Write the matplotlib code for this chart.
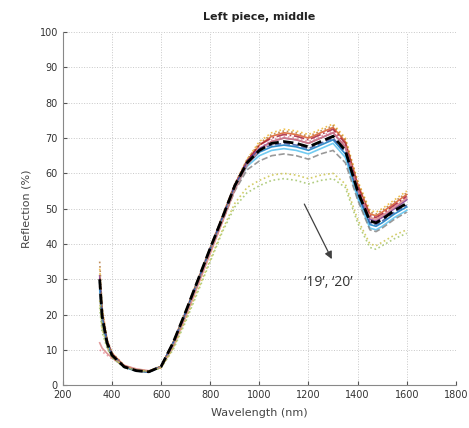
import numpy as np
import matplotlib.pyplot as plt

# wavelength grid (nm)
wl = [350, 360, 380, 400, 450, 500, 550, 600, 650, 700, 750, 800, 850, 900, 950,
      1000, 1050, 1100, 1150, 1200, 1250, 1300, 1350, 1400, 1450, 1475, 1500, 1550, 1600]

# reflection spectra (%) per sample
s01 = [33, 22, 13, 9, 5.5, 4.3, 4.0, 5.5, 12.5, 21, 30, 39, 48, 57, 64, 69, 71.5, 72.5, 72, 71, 72.5, 74, 70, 58, 49.5, 49, 50, 52.5, 55]
s02 = [30, 20, 12.5, 9, 5.5, 4.2, 3.8, 5.3, 12, 20.5, 29.5, 38.5, 47.5, 56.5, 63.5, 68, 70.5, 71.5, 71, 70, 71.5, 73, 69, 57, 48.5, 48, 49, 51.5, 54]
s03 = [10, 9.5, 8.5, 7.5, 5.5, 4.5, 4.0, 5.0, 11, 19.5, 28.5, 37.5, 46.5, 55.5, 62.5, 67, 69.5, 70.5, 70, 69, 70.5, 72, 68, 56, 48, 47.5, 48.5, 51, 53.5]
s04 = [28, 18, 11.5, 8.5, 5.2, 4.1, 3.8, 5.2, 12, 20.5, 29.5, 38.5, 47.5, 56.5, 63.5, 68, 70, 71, 70.5, 69.5, 71, 72.5, 68.5, 56.5, 48, 47.5, 48.5, 51, 53.5]
s05 = [31, 20, 12.5, 8.8, 5.3, 4.1, 3.8, 5.3, 12.2, 20.8, 29.8, 38.8, 47.8, 56.8, 63.5, 67, 69, 70, 69.5, 68.5, 70, 71.5, 67.5, 55.5, 47, 46.5, 47.5, 50, 52.5]
s06 = [29, 19, 12, 8.5, 5.2, 4.1, 3.8, 5.3, 12, 20.5, 29.5, 38.5, 47.3, 56, 62.5, 66, 67.5, 68, 67.5, 66.5, 68, 69.5, 65.5, 54, 45.5, 45, 46, 48.5, 50.5]
s07 = [27, 18, 11.5, 8.3, 5.1, 4.0, 3.7, 5.2, 11.8, 20.3, 29.2, 38.2, 47, 55.5, 62, 65, 66.5, 67, 66.5, 65.5, 67, 68.5, 64.5, 53, 44.5, 44, 45, 47.5, 49.5]
s08 = [26, 17, 11, 8, 5, 4.0, 3.7, 5.1, 11.5, 20, 29, 38, 46.5, 55, 61, 63.5, 65, 65.5, 65, 64, 65.5, 66.5, 63, 52.5, 44, 43.5, 44.5, 47, 49]
s09 = [30, 20, 12.2, 8.6, 5.2, 4.1, 3.8, 5.3, 12.1, 20.6, 29.6, 38.6, 47.4, 56.2, 62.8, 66.8, 68, 68.5, 68, 67, 68.5, 70, 66, 54.5, 46, 45.5, 46.5, 49, 51]
s10 = [35, 22, 13, 9.2, 5.6, 4.3, 3.9, 5.4, 12.3, 21, 30, 39, 48, 57, 64, 68.5, 71, 72, 71.5, 70.5, 72, 73.5, 69.5, 57.5, 49, 48.5, 49.5, 52, 54.5]
s11 = [12, 10.5, 9, 7.8, 5.6, 4.6, 4.1, 5.0, 11, 19.3, 28.3, 37.3, 46.3, 55.3, 62.3, 66.5, 69, 70, 69.5, 68.5, 70, 71.5, 67.5, 55.5, 47.5, 47, 48, 50.5, 53]
s19 = [24, 16, 11, 8, 5.2, 4.3, 4.0, 5.0, 10.5, 18.5, 27, 35.5, 44, 51.5, 56, 58, 59.5, 60, 59.5, 58.5, 59.5, 60, 57, 47, 40, 39.5, 40.5, 42.5, 44]
s20 = [22, 15, 10.5, 7.8, 5.0, 4.2, 3.9, 4.9, 10.2, 18, 26.5, 35, 43.5, 50.5, 54.5, 56.5, 58, 58.5, 58, 57, 58, 58.5, 56, 46, 39, 38.5, 39.5, 41.5, 43]
mean = [30, 19.5, 12, 8.5, 5.2, 4.1, 3.8, 5.3, 12.2, 20.8, 29.8, 38.8, 47.5, 56.5, 63, 66.5, 68.5, 69, 68.5, 67.5, 69, 70.5, 66.5, 55, 46.5, 46, 47, 49.5, 51.5]

spectra = [s01, s02, s03, s04, s05, s06, s07, s08, s09, s10, s11, s19, s20]
colors = ['#EDB120', '#D95319', '#E88A9A', '#A2142F', '#7E2F8E', '#0072BD', '#4DBEEE',
          '#808080', '#3050A0', '#B07030', '#D98080', '#C8C040', '#9CC060']
styles = [':', '-', ':', '-.', '-', '-', '-', '--', '--', ':', '-', ':', ':']

fig = plt.figure(figsize=(4.69, 4.28), dpi=100)
ax = fig.add_axes([0.134, 0.100, 0.838, 0.825])

for y, c, ls in zip(spectra, colors, styles):
    ax.plot(wl, y, color=c, ls=ls, lw=1.2, alpha=0.8)
ax.plot(wl, mean, color='black', ls='--', lw=2.0)

ax.annotate('', xy=(1300, 35), xytext=(1178, 52),
            arrowprops=dict(arrowstyle='-|>', color='#404040', lw=0.9, mutation_scale=11))
ax.text(1280, 29, '\u201819\u2019, \u201820\u2019', fontsize=10, color='#333333',
        ha='center', va='center', family='Open Sans')

ax.set_xlim(200, 1800)
ax.set_ylim(0, 100)
ax.set_xticks(np.arange(200, 1801, 200))
ax.set_yticks(np.arange(0, 101, 10))
ax.tick_params(direction='in', length=3, labelsize=7, colors='#555555', labelcolor='#333333')
ax.grid(True, ls=':', color='#c8c8c8', lw=0.7)
for side in ['top', 'right']:
    ax.spines[side].set_visible(False)
for side in ['left', 'bottom']:
    ax.spines[side].set_color('#888888')

ax.set_xlabel('Wavelength (nm)', fontsize=8, color='#444444', labelpad=6)
ax.set_ylabel('Reflection (%)', fontsize=8, color='#444444', labelpad=6)
ax.set_title('Left piece, middle', fontsize=8, fontweight='bold', color='#222222', pad=9)

fig.savefig('out.png', dpi=100)
